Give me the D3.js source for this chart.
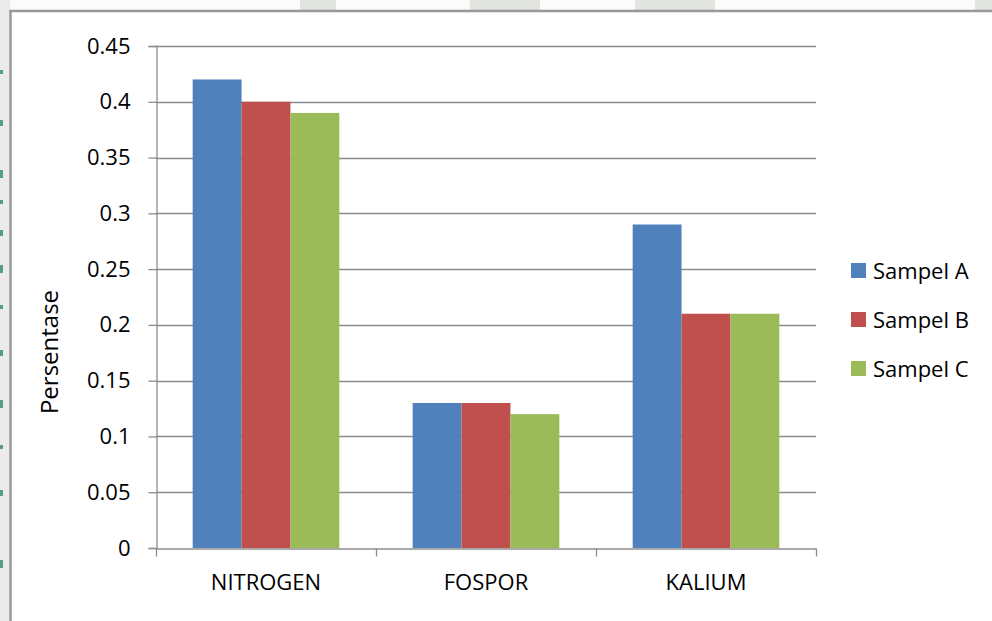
<!DOCTYPE html>
<html>
<head>
<meta charset="utf-8">
<script src="https://cdn.jsdelivr.net/npm/d3@7"></script>
<style>
  html, body { margin: 0; padding: 0; background: #ffffff; }
  svg { display: block; }
  text { font-family: "Open Sans", "Liberation Sans", sans-serif; fill: #000; }
</style>
</head>
<body>
<svg id="chart" width="992" height="621"></svg>
<script>
// Nutrient content per sample (percent)
const categories = ["NITROGEN", "FOSPOR", "KALIUM"];
const seriesNames = ["Sampel A", "Sampel B", "Sampel C"];
const sampelA = [0.42, 0.13, 0.29];
const sampelB = [0.40, 0.13, 0.21];
const sampelC = [0.39, 0.12, 0.21];
const yTicks = [0, 0.05, 0.1, 0.15, 0.2, 0.25, 0.3, 0.35, 0.4, 0.45];
const colors = ["#4F81BD", "#C0504D", "#9BBB59"];

const seriesValues = [sampelA, sampelB, sampelC];
const rows = categories.map((c, i) => ({
  category: c,
  values: seriesNames.map((s, j) => ({ series: s, value: seriesValues[j][i], color: colors[j] }))
}));

const svg = d3.select("#chart");

// page backdrop outside the chart frame
svg.append("rect").attr("x", 0).attr("y", 0).attr("width", 992).attr("height", 621).attr("fill", "#ebebeb");
svg.append("rect").attr("x", 10).attr("y", 0).attr("width", 982).attr("height", 11).attr("fill", "#fbfbfb");
const shapes = [[300, 336], [470, 540], [635, 715], [975, 992]];
shapes.forEach(([a, b]) => {
  svg.append("rect").attr("x", a).attr("y", 0).attr("width", b - a).attr("height", 11).attr("fill", "#e2e4df");
});
// green marks in the left margin
const glyphY = [70, 120, 170, 200, 230, 265, 305, 350, 400, 445, 490, 560];
glyphY.forEach((y, i) => {
  svg.append("rect").attr("x", 0).attr("y", y).attr("width", 3).attr("height", 4 + (i % 3) * 2).attr("fill", "#2f8a6a").attr("opacity", 0.8);
});

// chart frame
svg.append("rect").attr("x", 10.5).attr("y", 11).attr("width", 990).attr("height", 620)
  .attr("fill", "#ffffff").attr("stroke", "#999999").attr("stroke-width", 2.5);

const plot = { left: 156, right: 816, top: 46, bottom: 548 };

const x0 = d3.scaleBand().domain(categories).range([plot.left, plot.right]).paddingInner(0).paddingOuter(0);
const x1 = d3.scaleBand().domain(seriesNames).range([0, x0.bandwidth()]).paddingInner(0).paddingOuter(0.75);
const y = d3.scaleLinear().domain([0, 0.45]).range([plot.bottom, plot.top]);

// horizontal gridlines
svg.append("g").selectAll("line").data(yTicks.filter(t => t > 0)).join("line")
  .attr("x1", plot.left).attr("x2", plot.right)
  .attr("y1", d => Math.round(y(d)) + 0.5).attr("y2", d => Math.round(y(d)) + 0.5)
  .attr("stroke", "#8c8c8c").attr("stroke-width", 1.3);

// bars
const groups = svg.append("g").selectAll("g").data(rows).join("g")
  .attr("transform", d => `translate(${x0(d.category)},0)`);
groups.selectAll("rect").data(d => d.values).join("rect")
  .attr("x", d => x1(d.series))
  .attr("width", x1.bandwidth())
  .attr("y", d => y(d.value))
  .attr("height", d => y(0) - y(d.value))
  .attr("fill", d => d.color);

const font = "'Open Sans', 'Liberation Sans', sans-serif";

// y axis
const yAxis = svg.append("g").attr("transform", `translate(${plot.left + 0.5},0)`)
  .call(d3.axisLeft(y).tickValues(yTicks).tickFormat(d => String(+d.toFixed(2))).tickSizeOuter(0).tickSize(8).tickPadding(18));
yAxis.select(".domain").attr("stroke", "#8c8c8c").attr("stroke-width", 1.3);
yAxis.selectAll(".tick line").attr("stroke", "#8c8c8c").attr("stroke-width", 1.3);
yAxis.selectAll(".tick text").attr("font-size", 22).attr("font-family", font).attr("fill", "#000");

// x axis
const xAxis = svg.append("g").attr("transform", `translate(0,${plot.bottom + 0.5})`)
  .call(d3.axisBottom(x0).tickSize(0).tickPadding(26));
xAxis.select(".domain").attr("stroke", "#8c8c8c").attr("stroke-width", 1.3);
xAxis.selectAll(".tick text").attr("font-size", 22).attr("font-family", font).attr("fill", "#000");
const boundaries = categories.map(c => x0(c)).concat([x0(categories[categories.length - 1]) + x0.bandwidth()]);
xAxis.selectAll(".sep").data(boundaries).join("line")
  .attr("class", "sep")
  .attr("x1", d => d + 0.5).attr("x2", d => d + 0.5).attr("y1", 0).attr("y2", 8)
  .attr("stroke", "#8c8c8c").attr("stroke-width", 1.3);

// y axis title
svg.append("text")
  .attr("transform", `translate(58,${(plot.top + plot.bottom) / 2 + 55}) rotate(-90)`)
  .attr("text-anchor", "middle").attr("font-size", 24).text("Persentase");

// legend
const legend = svg.append("g").attr("transform", "translate(851,263)");
const li = legend.selectAll("g").data(seriesNames).join("g")
  .attr("transform", (d, i) => `translate(0,${i * 49})`);
li.append("rect").attr("width", 15).attr("height", 15).attr("fill", (d, i) => colors[i]);
li.append("text").attr("x", 22).attr("y", 16).attr("font-size", 22).text(d => d);
</script>
</body>
</html>
